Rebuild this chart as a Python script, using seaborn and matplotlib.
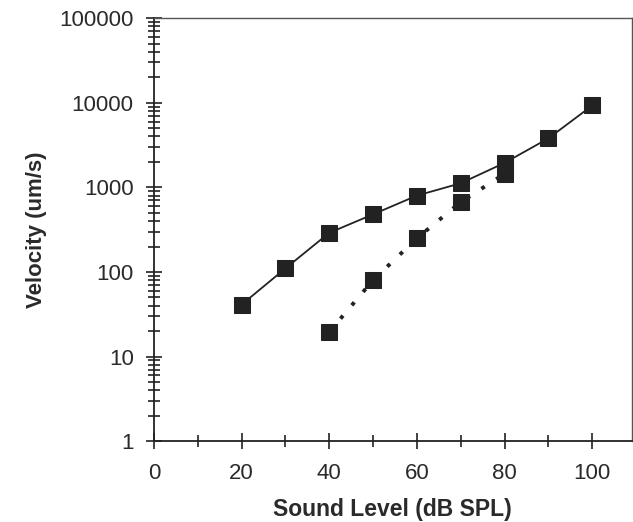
import numpy as np
import pandas as pd
import matplotlib
matplotlib.use("Agg")
import matplotlib.pyplot as plt
import matplotlib.ticker as mticker
import seaborn as sns

# data
level_a = [20, 30, 40, 50, 60, 70, 80, 90, 100]
vel_a = [41, 110, 290, 480, 800, 1120, 1950, 3800, 9300]
level_b = [40, 50, 60, 70, 80]
vel_b = [19.5, 80, 250, 670, 1450]

sns.set_style("white")
plt.rcParams['font.family'] = ['Liberation Sans', 'DejaVu Sans']

df_a = pd.DataFrame({"level": level_a, "velocity": vel_a})
df_b = pd.DataFrame({"level": level_b, "velocity": vel_b})

fig = plt.figure(figsize=(6.33, 5.22), dpi=100)
ax = fig.add_axes([0.243, 0.155, 0.755, 0.81])

sns.lineplot(data=df_a, x="level", y="velocity", ax=ax, color="#222222",
             linewidth=1.3, marker="s", markersize=11, markeredgecolor="#222222",
             markerfacecolor="#222222")
sns.lineplot(data=df_b, x="level", y="velocity", ax=ax, color="#222222",
             linewidth=2.8, linestyle=(0, (1, 3.5)), marker="s", markersize=11,
             markeredgecolor="#222222", markerfacecolor="#222222")

ax.set_yscale("log")
ax.set_ylim(1, 100000)
ax.set_xlim(0, 109)

ax.xaxis.set_major_locator(mticker.MultipleLocator(20))
ax.xaxis.set_minor_locator(mticker.MultipleLocator(10))
ax.yaxis.set_major_locator(mticker.LogLocator(base=10, numticks=10))
ax.yaxis.set_minor_locator(mticker.LogLocator(base=10, subs=np.arange(2, 10), numticks=20))
ax.yaxis.set_major_formatter(mticker.FuncFormatter(lambda v, p: f"{int(round(v))}"))
ax.yaxis.set_minor_formatter(mticker.NullFormatter())

ax.tick_params(axis="both", which="both", left=True, bottom=True)
ax.tick_params(axis="both", which="major", direction="inout", length=11, width=1.2,
               color="#222222", labelsize=16, labelcolor="#2a2a2a", pad=9)
ax.tick_params(axis="both", which="minor", direction="inout", length=8, width=1.2,
               color="#222222")
ax.tick_params(axis="x", which="major", pad=10)

for s in ["left", "bottom"]:
    ax.spines[s].set_color("#222222")
    ax.spines[s].set_linewidth(1.3)
for s in ["top", "right"]:
    ax.spines[s].set_color("#555555")
    ax.spines[s].set_linewidth(1.0)

ax.set_xlabel("Sound Level (dB SPL)", fontsize=16.5, fontweight="bold", color="#2a2a2a", labelpad=10)
ax.set_ylabel("Velocity (um/s)", fontsize=16, fontweight="bold", color="#2a2a2a", labelpad=9)

fig.savefig("out.png", dpi=100)
